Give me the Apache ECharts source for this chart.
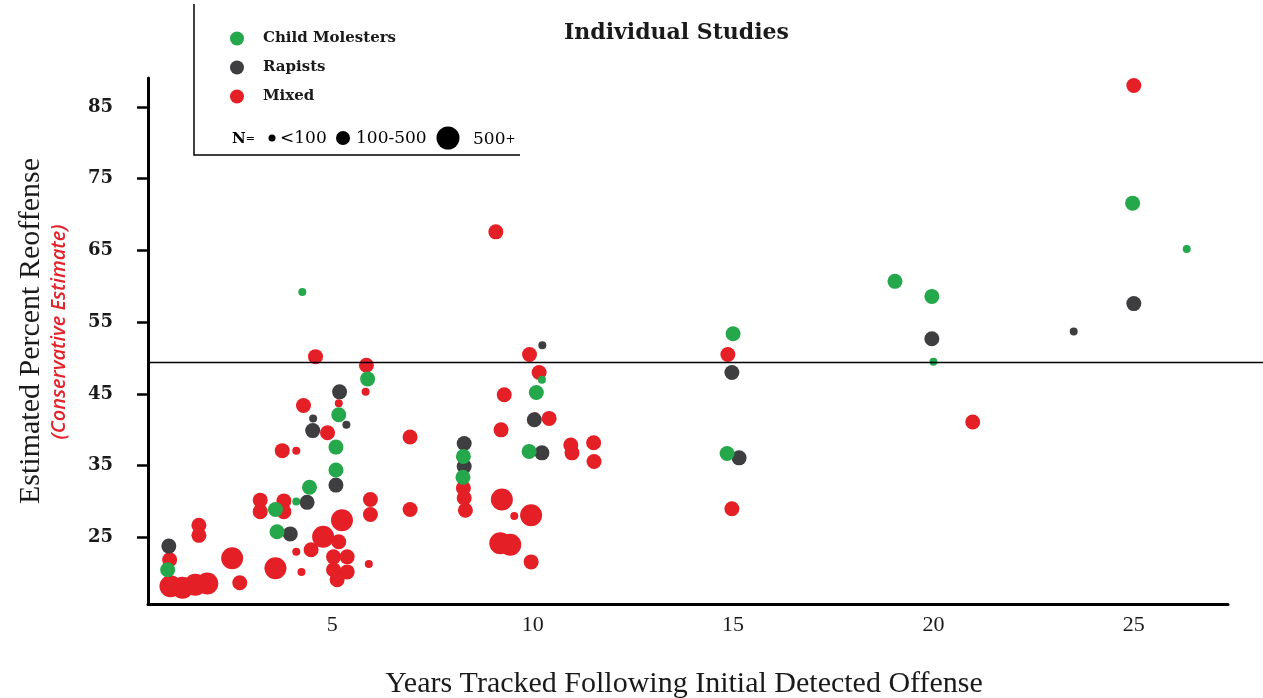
<!DOCTYPE html>
<html><head><meta charset="utf-8">
<script src="https://cdn.jsdelivr.net/npm/echarts@6/dist/echarts.min.js"></script>
<style>html,body{margin:0;padding:0;background:#fff}#chart{width:1263px;height:698px}</style>
</head><body><div id="chart"></div>
<script>
// ---- data (x = years tracked, y = estimated % reoffense, n = sample group: 0 <100, 1 100-500, 2 500+) ----
const seriesNames = ['Child Molesters', 'Rapists', 'Mixed'];
const xTicks = [5, 10, 15, 20, 25];
const yTicks = [25, 35, 45, 55, 65, 75, 85];
const meanLine = 49.4;
const sizeGroups = ['<100', '100-500', '500'];

const childMolesters = [
  [0.89,20.5,1],[3.62,25.8,1],[3.58,28.9,1],[4.10,30.0,0],[4.43,32.0,1],
  [5.09,34.4,1],[5.09,37.6,1],[5.16,42.1,1],[5.88,47.1,1],[4.25,59.2,0],
  [8.27,36.3,1],[8.26,33.4,1],[9.91,37.0,1],[10.09,45.2,1],[10.23,47.0,0],
  [15.0,53.4,1],[14.85,36.7,1],[19.04,60.7,1],[19.96,58.6,1],[20.0,49.5,0],
  [24.97,71.6,1],[26.32,65.2,0]
];
const rapists = [
  [0.92,23.8,1],[3.95,25.5,1],[4.37,29.9,1],[5.09,32.3,1],[4.51,39.9,1],
  [4.52,41.6,0],[5.35,40.7,0],[5.18,45.3,1],[8.29,38.1,1],[8.29,34.9,1],
  [10.04,41.4,1],[10.24,51.8,0],[10.23,36.8,1],[14.97,48.0,1],[15.15,36.1,1],
  [19.96,52.7,1],[23.5,53.7,0],[25.0,57.6,1]
];
const mixed = [
  [0.96,18.2,2],[1.26,18.0,2],[1.58,18.4,2],[1.88,18.6,2],[2.50,22.1,2],
  [3.58,20.7,2],[4.77,25.1,2],[5.24,27.4,2],[9.23,30.3,2],[9.96,28.1,2],
  [9.19,24.2,2],[9.44,24.0,2],
  [0.94,21.9,1],[1.67,26.7,1],[1.67,25.3,1],[2.69,18.7,1],[3.20,30.2,1],
  [3.20,28.6,1],[3.79,30.1,1],[3.79,28.6,1],[4.47,23.3,1],[5.16,24.4,1],
  [5.03,22.3,1],[5.37,22.3,1],[5.03,20.5,1],[5.37,20.2,1],[5.12,19.1,1],
  [5.95,30.3,1],[5.95,28.2,1],[4.58,50.2,1],[5.85,49.0,1],[4.28,43.4,1],
  [4.88,39.6,1],[3.75,37.1,1],[6.94,39.0,1],[6.94,28.9,1],[8.27,31.9,1],
  [8.29,30.5,1],[8.32,28.8,1],[9.21,40.0,1],[9.29,44.9,1],[9.92,50.5,1],
  [10.16,48.0,1],[10.41,41.6,1],[10.95,37.9,1],[10.98,36.8,1],[11.52,38.2,1],
  [11.53,35.6,1],[9.96,21.6,1],[9.08,67.6,1],[14.87,50.5,1],[14.97,29.0,1],
  [20.98,41.1,1],[25.0,88.0,1],
  [5.83,45.3,0],[5.16,43.7,0],[4.10,37.1,0],[4.10,23.0,0],[4.23,20.2,0],
  [5.91,21.3,0],[9.54,28.0,0],[10.06,41.9,0]
];

// ---- styling ----
const symbolPx = [8, 15, 22];
const GREEN = '#25a84b', DARK = '#3e3e40', RED = '#e41f26';
const yMin = 15.73, yMax = 89.04, xMin = 0.4, xMax = 27.35;

function scatter(name, data, color, z) {
  return {
    type: 'scatter', name: name, data: data, xAxisIndex: 0, yAxisIndex: 0,
    symbol: 'circle', symbolSize: function (d) { return symbolPx[d[2]]; },
    itemStyle: { color: color, opacity: 1 }, z: z, silent: true
  };
}

const chart = echarts.init(document.getElementById('chart'));
chart.setOption({
  animation: false,
  backgroundColor: '#fff',
  title: {
    text: 'Individual Studies', left: 564, top: 22, padding: 0,
    textStyle: { fontFamily: 'DejaVu Serif', fontWeight: 'bold', fontSize: 22, color: '#1a1a1a' }
  },
  legend: {
    data: seriesNames, orient: 'vertical', left: 230, top: 31, padding: 0,
    itemWidth: 14, itemHeight: 14, itemGap: 14, icon: 'circle', selectedMode: false,
    textStyle: { fontFamily: 'DejaVu Serif', fontWeight: 'bold', fontSize: 15, color: '#1a1a1a', lineHeight: 14, padding: [0, 0, 0, 14] }
  },
  grid: [
    { left: 148, right: 35, top: 78, bottom: 94, containLabel: false, outerBoundsMode: 'none' },
    { left: 148, right: 0, top: 78, bottom: 94, containLabel: false, outerBoundsMode: 'none' }
  ],
  xAxis: [
    {
      type: 'value', gridIndex: 0, min: xMin, max: xMax,
      axisLine: { onZero: false, lineStyle: { color: '#000', width: 3 } },
      axisTick: { show: false }, splitLine: { show: false },
      axisLabel: { customValues: xTicks, margin: 10, fontFamily: 'Liberation Serif', fontSize: 22, color: '#1a1a1a' },
      name: 'Years Tracked Following Initial Detected Offense', nameLocation: 'middle', nameGap: 65,
      nameTextStyle: { fontFamily: 'Liberation Serif', fontSize: 30, color: '#1a1a1a', padding: [0, 8, 0, 0] }
    },
    { type: 'value', gridIndex: 1, min: 0, max: 1, show: false }
  ],
  yAxis: [
    {
      type: 'value', gridIndex: 0, min: yMin, max: yMax,
      axisLine: { show: true, onZero: false, lineStyle: { color: '#000', width: 3 } },
      axisTick: { show: true, length: 11, customValues: yTicks, lineStyle: { color: '#000', width: 2.5 } },
      splitLine: { show: false },
      axisLabel: { customValues: yTicks, margin: 35, fontFamily: 'DejaVu Serif', fontWeight: 'bold', fontSize: 18, color: '#1a1a1a' }
    },
    { type: 'value', gridIndex: 1, min: yMin, max: yMax, show: false }
  ],
  series: [
    scatter('Mixed', mixed, RED, 2),
    scatter('Rapists', rapists, DARK, 3),
    scatter('Child Molesters', childMolesters, GREEN, 4),
    {
      type: 'line', xAxisIndex: 1, yAxisIndex: 1, data: [[0, meanLine], [1, meanLine]],
      symbol: 'none', silent: true, lineStyle: { color: '#000', width: 1.5 }, z: 5
    }
  ],
  graphic: [
    { type: 'text', x: 31, y: 331, rotation: Math.PI / 2,
      style: { text: 'Estimated Percent Reoffense', font: '30px "Liberation Serif"', fill: '#1a1a1a', align: 'center', verticalAlign: 'middle' } },
    { type: 'text', x: 59, y: 332, rotation: Math.PI / 2,
      style: { text: '(Conservative Estimate)', font: 'italic 600 20px "Open Sans"', fill: '#e3232b', align: 'center', verticalAlign: 'middle' } },
    { type: 'polyline', shape: { points: [[194, 4], [194, 155], [520, 155]] }, style: { stroke: '#000', lineWidth: 1.5, fill: null } },
    { type: 'text', x: 232, y: 139,
      style: { text: '{a|N}{b|=}', rich: { a: { font: 'bold 15px "DejaVu Serif"', fill: '#000' }, b: { font: '11px "DejaVu Serif"', fill: '#000' } }, verticalAlign: 'middle' } },
    { type: 'circle', shape: { cx: 272, cy: 138, r: 3.5 }, style: { fill: '#000' } },
    { type: 'text', x: 280, y: 139, style: { text: sizeGroups[0], font: '17px "DejaVu Serif"', fill: '#000', verticalAlign: 'middle' } },
    { type: 'circle', shape: { cx: 343, cy: 138, r: 7 }, style: { fill: '#000' } },
    { type: 'text', x: 356, y: 139, style: { text: sizeGroups[1], font: '17px "DejaVu Serif"', fill: '#000', verticalAlign: 'middle' } },
    { type: 'circle', shape: { cx: 448, cy: 138, r: 11.5 }, style: { fill: '#000' } },
    { type: 'text', x: 473, y: 140,
      style: { text: '{a|' + sizeGroups[2] + '}{b|+}', rich: { a: { font: '17px "DejaVu Serif"', fill: '#000' }, b: { font: '12px "DejaVu Serif"', fill: '#000' } }, verticalAlign: 'middle' } }
  ]
});
</script></body></html>
